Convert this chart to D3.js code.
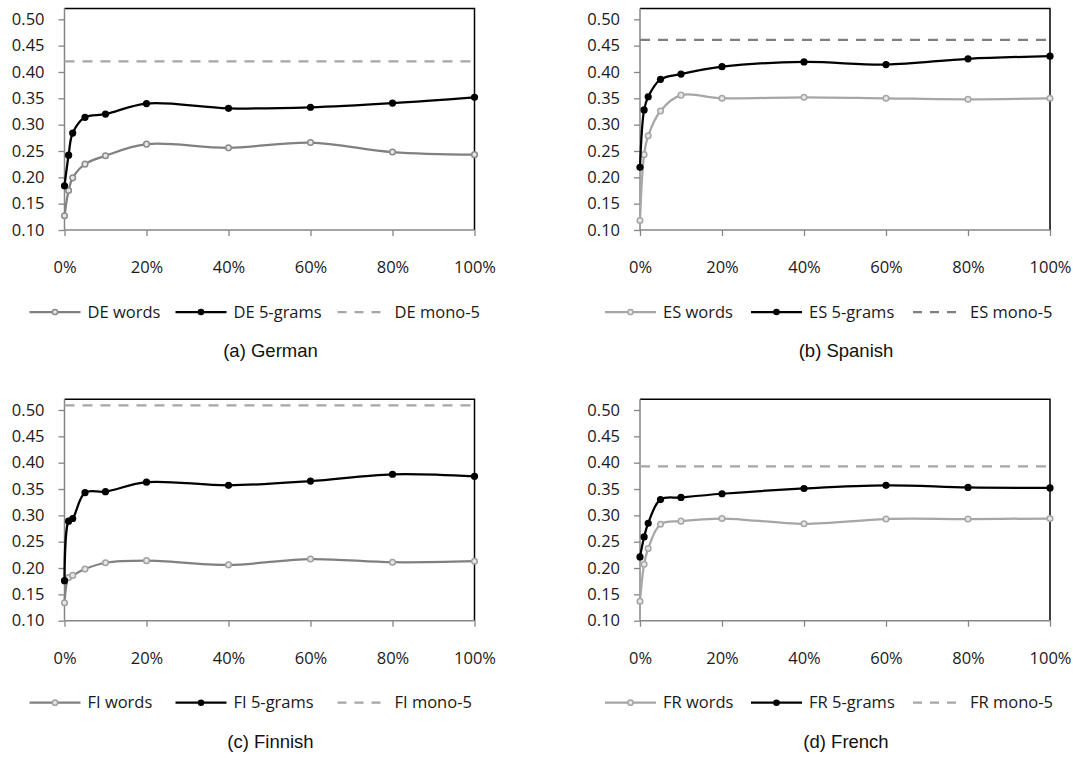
<!DOCTYPE html>
<html><head><meta charset="utf-8">
<script src="https://cdn.jsdelivr.net/npm/d3@7"></script>
<style>
body{margin:0;background:#fff;}
svg{display:block;}
.tick text{font-family:"Open Sans",sans-serif;font-size:16.5px;fill:#1a1a1a;}
.leg{font-family:"Open Sans",sans-serif;font-size:16.5px;fill:#1a1a1a;}
.cap{font-family:"Liberation Sans",Arial,sans-serif;font-size:18.5px;fill:#111;}
</style></head>
<body>
<script>
// ---- data ----
const xPct = [0, 1, 2, 5, 10, 20, 40, 60, 80, 100];
const xTicks = [0, 20, 40, 60, 80, 100];
const yTicks = [0.10, 0.15, 0.20, 0.25, 0.30, 0.35, 0.40, 0.45, 0.50];

const deWords = [0.127, 0.175, 0.199, 0.225, 0.241, 0.263, 0.256, 0.266, 0.248, 0.243];
const de5     = [0.184, 0.242, 0.284, 0.314, 0.320, 0.340, 0.331, 0.333, 0.341, 0.352];
const deMono  = 0.420;

const esWords = [0.118, 0.243, 0.279, 0.326, 0.356, 0.350, 0.352, 0.350, 0.348, 0.350];
const es5     = [0.219, 0.328, 0.353, 0.386, 0.396, 0.410, 0.419, 0.414, 0.425, 0.430];
const esMono  = 0.461;

const fiWords = [0.134, 0.182, 0.186, 0.198, 0.210, 0.214, 0.206, 0.217, 0.211, 0.213];
const fi5     = [0.176, 0.289, 0.294, 0.343, 0.345, 0.363, 0.357, 0.365, 0.378, 0.374];
const fiMono  = 0.509;

const frWords = [0.137, 0.207, 0.237, 0.283, 0.289, 0.294, 0.284, 0.293, 0.293, 0.294];
const fr5     = [0.221, 0.259, 0.285, 0.330, 0.334, 0.341, 0.351, 0.357, 0.353, 0.352];
const frMono  = 0.393;

const langCodes = ["DE", "ES", "FI", "FR"];
const captions = ["(a) German", "(b) Spanish", "(c) Finnish", "(d) French"];

// ---- drawing ----
const W = 1073, H = 763;
const svg = d3.select("body").append("svg").attr("width", W).attr("height", H);

const panels = [
  {code: langCodes[0], words: deWords, grams: de5, mono: deMono, cap: captions[0], left: 64.5, top: 0,
   wLine: "#808080", wMark: "#8a8a8a", monoCol: "#a6a6a6"},
  {code: langCodes[1], words: esWords, grams: es5, mono: esMono, cap: captions[1], left: 640, top: 0,
   wLine: "#a6a6a6", wMark: "#a6a6a6", monoCol: "#7f7f7f"},
  {code: langCodes[2], words: fiWords, grams: fi5, mono: fiMono, cap: captions[2], left: 64.5, top: 390.7,
   wLine: "#808080", wMark: "#a0a0a0", monoCol: "#a6a6a6"},
  {code: langCodes[3], words: frWords, grams: fr5, mono: frMono, cap: captions[3], left: 640, top: 390.7,
   wLine: "#a6a6a6", wMark: "#a6a6a6", monoCol: "#a6a6a6"}
];

const plotW = 410, y50 = 19.3, y10 = 230, frameTop = 8.5;

panels.forEach(p => {
  const g = svg.append("g").attr("transform", `translate(${p.left},${p.top})`);
  const x = d3.scaleLinear().domain([0, 100]).range([0, plotW]);
  const y = d3.scaleLinear().domain([0.10, 0.50]).range([y10, y50]);

  // frame top & right (black)
  g.append("path").attr("d", `M0,${frameTop}H${plotW}V${y10}`)
    .attr("fill", "none").attr("stroke", "#000").attr("stroke-width", 1.5);

  // y axis
  const ya = g.append("g").call(d3.axisLeft(y).tickValues(yTicks).tickFormat(d3.format(".2f")).tickSize(6).tickPadding(14));
  ya.select(".domain").remove();
  ya.selectAll(".tick line").attr("stroke", "#868686").attr("stroke-width", 1.3);
  g.append("line").attr("x1", 0).attr("x2", 0).attr("y1", frameTop).attr("y2", y10)
    .attr("stroke", "#868686").attr("stroke-width", 1.5);

  // x axis
  const xa = g.append("g").attr("transform", `translate(0,${y10})`)
    .call(d3.axisBottom(x).tickValues(xTicks).tickFormat(d => d + "%").tickSize(6).tickPadding(32));
  xa.select(".domain").remove();
  xa.selectAll(".tick line").attr("stroke", "#868686").attr("stroke-width", 1.3);
  xa.selectAll(".tick text").attr("dy", "0.32em");
  g.append("line").attr("x1", 0).attr("x2", plotW).attr("y1", y10).attr("y2", y10)
    .attr("stroke", "#868686").attr("stroke-width", 1.5);

  // mono dashed line
  g.append("line").attr("x1", 0).attr("x2", plotW).attr("y1", y(p.mono)).attr("y2", y(p.mono))
    .attr("stroke", p.monoCol).attr("stroke-width", 2.25).attr("stroke-dasharray", "10,8");

  const line = d3.line().x((d, i) => x(xPct[i])).y(d => y(d)).curve(d3.curveCatmullRom.alpha(0.5));

  // words series
  g.append("path").datum(p.words).attr("d", line).attr("fill", "none")
    .attr("stroke", p.wLine).attr("stroke-width", 2.25);
  g.selectAll(".wm").data(p.words).join("circle").attr("class", "wm")
    .attr("cx", (d, i) => x(xPct[i])).attr("cy", d => y(d)).attr("r", 2.8)
    .attr("fill", "#e6e6e6").attr("stroke", p.wMark).attr("stroke-width", 1.5);

  // 5-grams series
  g.append("path").datum(p.grams).attr("d", line).attr("fill", "none")
    .attr("stroke", "#000").attr("stroke-width", 2.25);
  g.selectAll(".gm").data(p.grams).join("circle").attr("class", "gm")
    .attr("cx", (d, i) => x(xPct[i])).attr("cy", d => y(d)).attr("r", 3.6)
    .attr("fill", "#000");

  // legend
  const ly = 312;
  const lg = g.append("g").attr("transform", `translate(0,${ly})`);
  const items = [
    {x0: -35, label: p.code + " words", col: p.wLine, mcol: p.wMark, type: "w"},
    {x0: 111, label: p.code + " 5-grams", col: "#000", mcol: "#000", type: "g"},
    {x0: 273, label: p.code + " mono-5", col: p.monoCol, type: "m"}
  ];
  items.forEach(it => {
    if (it.type === "m") {
      lg.append("line").attr("x1", it.x0).attr("x2", it.x0 + 46).attr("y1", 0).attr("y2", 0)
        .attr("stroke", it.col).attr("stroke-width", 2.25).attr("stroke-dasharray", "9,8");
      lg.append("text").attr("class", "leg").attr("x", it.x0 + 57).attr("y", 0).attr("dy", "0.35em").text(it.label);
    } else {
      lg.append("line").attr("x1", it.x0).attr("x2", it.x0 + 51).attr("y1", 0).attr("y2", 0)
        .attr("stroke", it.col).attr("stroke-width", 2.25);
      if (it.type === "w")
        lg.append("circle").attr("cx", it.x0 + 25.5).attr("cy", 0).attr("r", 2.6)
          .attr("fill", "#e6e6e6").attr("stroke", it.mcol).attr("stroke-width", 1.5);
      else
        lg.append("circle").attr("cx", it.x0 + 25.5).attr("cy", 0).attr("r", 3.3).attr("fill", "#000");
      lg.append("text").attr("class", "leg").attr("x", it.x0 + 58).attr("y", 0).attr("dy", "0.35em").text(it.label);
    }
  });

  // caption
  g.append("text").attr("class", "cap").attr("x", plotW / 2 + 1).attr("y", 351)
    .attr("text-anchor", "middle").attr("dy", "0.35em").text(p.cap);
});
</script>
</body></html>
